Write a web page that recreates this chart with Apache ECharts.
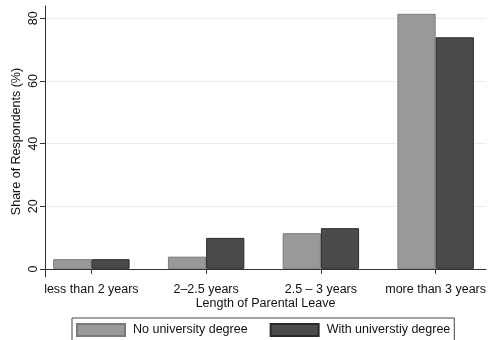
<!DOCTYPE html>
<html>
<head>
<meta charset="utf-8">
<script src="https://cdn.jsdelivr.net/npm/echarts@6/dist/echarts.min.js"></script>
<style>
html,body{margin:0;padding:0;background:#fff;}
#main{width:493px;height:340px;}
</style>
</head>
<body>
<div id="main"></div>
<script>
const categories = ['less than 2 years', '2\u20132.5 years', '2.5 \u2013 3 years', 'more than 3 years'];
const noDegree = [3.1, 3.9, 11.4, 81.5];
const withDegree = [3.1, 9.9, 13.0, 74.0];
const seriesNames = ['No university degree', 'With universtiy degree'];
const yTicks = {min: 0, max: 80, interval: 20};
const axisTitleX = 'Length of Parental Leave';
const axisTitleY = 'Share of Respondents (%)';

const font = 'Liberation Sans, Arial, Helvetica, sans-serif';
const chart = echarts.init(document.getElementById('main'), null, {renderer: 'canvas'});
const option = {
  animation: false,
  backgroundColor: '#fff',
  textStyle: {fontFamily: font},
  grid: [
    {left: 45, top: 6, width: 441, height: 271},
    {left: 45, top: 18.3, width: 441, height: 250.7},
    {left: 34, top: 6, width: 463, height: 271}
  ],
  xAxis: [
    {gridIndex: 0, type: 'value', min: 0, max: 1,
     axisLine: {show: true, lineStyle: {color: '#333', width: 1}},
     axisTick: {show: false}, axisLabel: {show: false}, splitLine: {show: false},
     name: axisTitleX, nameLocation: 'middle', nameGap: 20,
     nameTextStyle: {fontSize: 12.5, color: '#111', fontFamily: font}},
    {gridIndex: 1, type: 'value', min: 0, max: 1, show: false},
    {gridIndex: 2, type: 'category', data: categories,
     axisLine: {show: false},
     axisTick: {show: true, alignWithLabel: true, length: 5, lineStyle: {color: '#333'}},
     axisLabel: {fontSize: 12.5, color: '#111', margin: 6, fontFamily: font, interval: 0},
     splitLine: {show: false}}
  ],
  yAxis: [
    {gridIndex: 0, type: 'value', min: -2.6, max: 84,
     axisLine: {show: true, lineStyle: {color: '#333', width: 1}},
     axisTick: {show: false}, axisLabel: {show: false}, splitLine: {show: false},
     name: axisTitleY, nameLocation: 'middle', nameGap: 22, nameRotate: 90,
     nameTextStyle: {fontSize: 12.5, color: '#111', fontFamily: font}},
    {gridIndex: 1, type: 'value', min: yTicks.min, max: yTicks.max, interval: yTicks.interval,
     axisLine: {show: false},
     axisTick: {show: true, length: 5, lineStyle: {color: '#333'}},
     axisLabel: {rotate: 90, fontSize: 12.5, color: '#111', margin: 5, fontFamily: font},
     splitLine: {show: true, lineStyle: {color: '#ececec', width: 1}}},
    {gridIndex: 2, type: 'value', min: -2.6, max: 84, show: false}
  ],
  legend: {
    left: 72, top: 318,
    padding: [5, 4, 12, 4],
    itemWidth: 48, itemHeight: 12, itemGap: 22,
    icon: 'rect',
    borderColor: '#444', borderWidth: 1,
    textStyle: {fontSize: 12.5, color: '#111', fontFamily: font, padding: [0, 0, 0, 3]},
    data: seriesNames
  },
  series: [
    {name: seriesNames[0], type: 'bar', xAxisIndex: 2, yAxisIndex: 2, data: noDegree,
     barGap: '0%', barCategoryGap: '33.4%',
     itemStyle: {color: '#999999', borderColor: '#7a7a7a', borderWidth: 1}},
    {name: seriesNames[1], type: 'bar', xAxisIndex: 2, yAxisIndex: 2, data: withDegree,
     barGap: '0%', barCategoryGap: '33.4%',
     itemStyle: {color: '#4b4b4b', borderColor: '#2a2a2a', borderWidth: 1}}
  ]
};
chart.setOption(option);
</script>
</body>
</html>
